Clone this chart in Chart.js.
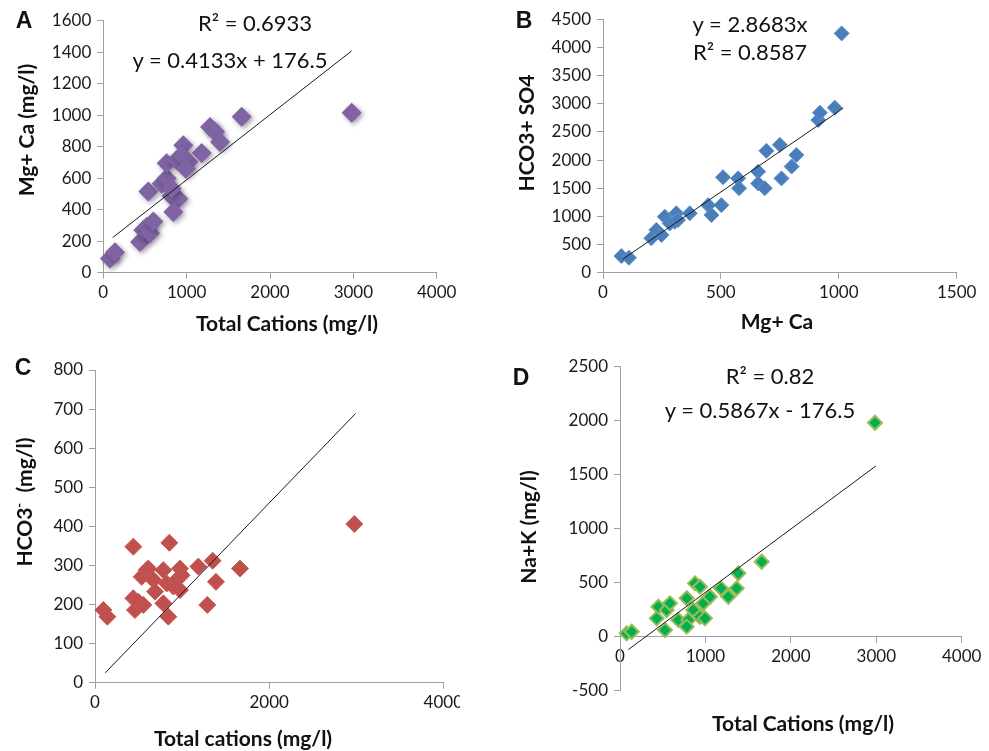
<!DOCTYPE html>
<html>
<head>
<meta charset="utf-8">
<script src="https://cdn.jsdelivr.net/npm/chart.js@4.4.1/dist/chart.umd.min.js"></script>
<style>
  html, body { margin: 0; padding: 0; background: #fff; }
  body { width: 989px; height: 751px; position: relative; overflow: hidden; font-family: Lato, sans-serif; color: #111; }
  .panel { position: absolute; overflow: hidden; }
  .lbl { position: absolute; transform: translate(-50%, -50%); white-space: nowrap; line-height: 1; }
  .letter { font-family: "Liberation Sans", Arial, sans-serif; font-weight: bold; font-size: 23px; }
  .eq { font-size: 22px; }
  .ttl { font-weight: bold; font-size: 21px; }
  .rot { transform: translate(-50%, -50%) rotate(-90deg); }
</style>
</head>
<body>
<div class="panel" style="left:0;top:0;width:494px;height:340px"><canvas id="chartA"></canvas></div>
<div class="panel" style="left:494px;top:0;width:495px;height:340px"><canvas id="chartB"></canvas></div>
<div class="panel" style="left:0;top:340px;width:460px;height:411px"><canvas id="chartC"></canvas></div>
<div class="panel" style="left:494px;top:340px;width:495px;height:411px"><canvas id="chartD"></canvas></div>

<div class="lbl letter" style="left:24px;top:20px">A</div>
<div class="lbl eq" style="left:255px;top:23px">R² = 0.6933</div>
<div class="lbl eq" style="left:230px;top:60px">y = 0.4133x + 176.5</div>
<div class="lbl ttl" style="left:287px;top:322px">Total Cations (mg/l)</div>
<div class="lbl ttl rot" style="left:25px;top:130px">Mg+ Ca (mg/l)</div>

<div class="lbl letter" style="left:524px;top:20px">B</div>
<div class="lbl eq" style="left:750px;top:24px">y = 2.8683x</div>
<div class="lbl eq" style="left:750px;top:52px">R² = 0.8587</div>
<div class="lbl ttl" style="left:777px;top:320px">Mg+ Ca</div>
<div class="lbl ttl rot" style="left:525px;top:133px">HCO3+ SO4</div>

<div class="lbl letter" style="left:23px;top:367px">C</div>
<div class="lbl ttl" style="left:243px;top:737px">Total cations (mg/l)</div>
<div class="lbl ttl rot" style="left:23px;top:502px">HCO3<sup style="font-size:13px">-</sup>&nbsp; (mg/l)</div>

<div class="lbl letter" style="left:521px;top:377px">D</div>
<div class="lbl eq" style="left:770px;top:376px">R² = 0.82</div>
<div class="lbl eq" style="left:760px;top:410px">y = 0.5867x - 176.5</div>
<div class="lbl ttl" style="left:803px;top:722px">Total Cations (mg/l)</div>
<div class="lbl ttl rot" style="left:527px;top:527px">Na+K (mg/l)</div>

<script>
// A: Mg+Ca vs total cations
const totalCationsA = [80, 140, 440, 480, 520, 560, 600, 540, 700, 760, 760, 880, 820, 900, 840, 820, 960, 940, 1020, 990, 1180, 1280, 1340, 1400, 1660, 2980];
const mgCaA = [90, 130, 195, 270, 290, 250, 325, 515, 565, 600, 695, 715, 485, 470, 385, 535, 810, 745, 705, 660, 760, 925, 895, 830, 990, 1015];

// B: HCO3+SO4 vs Mg+Ca
const mgCaB = [78, 110, 205, 226, 248, 262, 283, 311, 304, 318, 368, 446, 460, 502, 509, 573, 577, 658, 658, 686, 693, 750, 757, 800, 820, 913, 920, 983, 1012];
const hco3So4B = [295, 265, 610, 760, 670, 995, 875, 1055, 905, 935, 1055, 1200, 1025, 1200, 1695, 1675, 1500, 1795, 1585, 1500, 2165, 2270, 1675, 1885, 2090, 2710, 2840, 2930, 4250];

// C: HCO3 vs total cations
const totalCationsC = [96, 142, 440, 440, 459, 498, 555, 536, 593, 612, 670, 689, 785, 785, 823, 842, 854, 900, 938, 976, 995, 976, 1187, 1290, 1351, 1389, 1665, 2978];
const hco3C = [186, 169, 348, 216, 186, 207, 199, 271, 288, 292, 263, 233, 288, 203, 254, 169, 358, 246, 263, 292, 275, 237, 297, 199, 312, 258, 292, 406];

// D: Na+K vs total cations
const totalCationsD = [78, 137, 430, 449, 546, 585, 527, 683, 781, 800, 781, 858, 878, 936, 936, 995, 975, 1053, 1182, 1268, 1366, 1385, 1659, 2985];
const naKD = [31, 46, 170, 278, 247, 309, 62, 155, 356, 155, 93, 247, 494, 463, 185, 170, 309, 370, 448, 370, 448, 587, 694, 1981];

// trendlines (slope, intercept, x range drawn)
const fitA = { slope: 0.4133, intercept: 176.5, from: 112, to: 2980 };
const fitB = { slope: 2.8683, intercept: 0, from: 82, to: 1019 };
const fitC = { slope: 0.2308, intercept: -2, from: 119, to: 2993 };
const fitD = { slope: 0.5867, intercept: -176.5, from: 98, to: 2997 };

const pts = (xs, ys) => xs.map((x, i) => ({ x, y: ys[i] }));
const trend = f => [f.from, f.to].map(x => ({ x, y: f.slope * x + f.intercept }));

const axisColor = '#a0a0a0';
const tickFont = { family: 'Lato', size: 17 };

const shadowPlugin = {
  id: 'markerShadow',
  beforeDatasetDraw(chart, args) {
    if (args.index !== 1) return;
    const c = chart.ctx;
    c.save();
    c.shadowColor = 'rgba(40,30,60,0.45)';
    c.shadowBlur = 5;
    c.shadowOffsetX = 2;
    c.shadowOffsetY = 2;
  },
  afterDatasetDraw(chart, args) {
    if (args.index === 1) chart.ctx.restore();
  }
};

// box = canvas in page px, area = wanted plot area in page px
function makeChart(id, box, area, s) {
  const canvas = document.getElementById(id);
  canvas.width = box.w;
  canvas.height = box.h;
  const axisOpts = (min, max, step) => ({
    min, max,
    ticks: { stepSize: step, color: '#1a1a1a', font: tickFont, autoSkip: false, maxRotation: 0,
             callback: v => String(v) },
    grid: { drawOnChartArea: false, tickLength: 6, color: axisColor },
    border: { color: axisColor, width: 1 }
  });
  const x = axisOpts(s.x[0], s.x[1], s.x[2]);
  x.ticks.padding = 4;
  x.position = s.xAtZero ? { y: 0 } : 'bottom';
  x.afterFit = sc => { sc.height = box.y + box.h - area.bottom; };
  const y = axisOpts(s.y[0], s.y[1], s.y[2]);
  y.ticks.padding = 6;
  y.afterFit = sc => { sc.width = area.left - box.x; };

  return new Chart(canvas, {
    type: 'scatter',
    data: {
      datasets: [
        { data: trend(s.fit), showLine: true, borderColor: '#1a1a1a', borderWidth: 1, pointRadius: 0, order: 0 },
        { data: pts(s.xs, s.ys), pointStyle: 'rectRot', pointRadius: s.r, backgroundColor: s.fill,
          borderColor: s.edge, borderWidth: s.edgeW, clip: false, order: 1 }
      ]
    },
    options: {
      responsive: false,
      animation: false,
      events: [],
      layout: {
        padding: {
          top: area.top - box.y,
          right: box.x + box.w - area.right,
          left: 0,
          bottom: s.xAtZero ? box.y + box.h - area.bottom : 0
        }
      },
      plugins: { legend: { display: false }, tooltip: { enabled: false } },
      scales: { x, y }
    },
    plugins: s.shadow ? [shadowPlugin] : []
  });
}

makeChart('chartA', { x: 0, y: 0, w: 494, h: 340 }, { left: 103.3, right: 436.7, top: 20.7, bottom: 272.7 }, {
  xs: totalCationsA, ys: mgCaA, fit: fitA, x: [0, 4000, 1000], y: [0, 1600, 200],
  r: 10, fill: '#7f63a3', edge: '#7f63a3', edgeW: 0, shadow: true
});
makeChart('chartB', { x: 494, y: 0, w: 495, h: 340 }, { left: 603, right: 956.7, top: 19.3, bottom: 272.7 }, {
  xs: mgCaB, ys: hco3So4B, fit: fitB, x: [0, 1500, 500], y: [0, 4500, 500],
  r: 7.5, fill: '#4a7ebb', edge: '#5d8fcc', edgeW: 1
});
makeChart('chartC', { x: 0, y: 340, w: 494, h: 411 }, { left: 95, right: 443.3, top: 370, bottom: 682.7 }, {
  xs: totalCationsC, ys: hco3C, fit: fitC, x: [0, 4000, 2000], y: [0, 800, 100],
  r: 8.5, fill: '#c0504d', edge: '#c65a57', edgeW: 1
});
makeChart('chartD', { x: 494, y: 340, w: 495, h: 411 }, { left: 620, right: 961.7, top: 366.7, bottom: 690.7 }, {
  xs: totalCationsD, ys: naKD, fit: fitD, x: [0, 4000, 1000], y: [-500, 2500, 500],
  r: 7, fill: '#00b050', edge: '#9bbb59', edgeW: 2, xAtZero: true
});
</script>
</body>
</html>
